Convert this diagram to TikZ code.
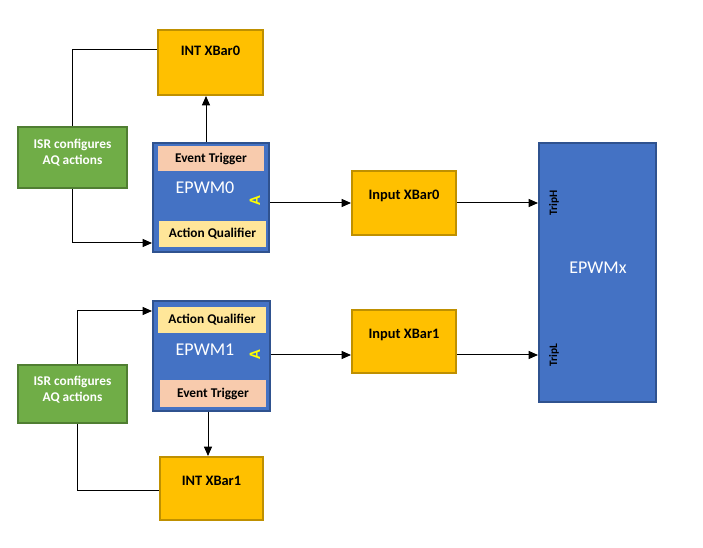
\documentclass[tikz,border=0pt]{standalone}
\usepackage{fontspec}
\setmainfont{Carlito}
\usetikzlibrary{arrows.meta}
\definecolor{orF}{HTML}{FFC000}
\definecolor{orB}{HTML}{BF9000}
\definecolor{grF}{HTML}{70AD47}
\definecolor{grB}{HTML}{507E32}
\definecolor{blF}{HTML}{4472C4}
\definecolor{blB}{HTML}{2F528F}
\definecolor{etF}{HTML}{F8CBAD}
\definecolor{aqF}{HTML}{FFE699}
\definecolor{ylw}{HTML}{FFFF00}
\tikzset{
  sz/.style 2 args={minimum width=#1*0.75pt, minimum height=#2*0.75pt, inner sep=0pt},
  xbar/.style={draw=orB, fill=orF, line width=1.5pt},
  xbartext/.style={font=\fontsize{10.8}{12}\selectfont\bfseries},
  isr/.style={draw=grB, fill=grF, line width=1.5pt},
  isrtext/.style={text=white, align=center, font=\fontsize{10}{12}\selectfont\bfseries},
  epwm/.style={draw=blB, fill=blF, line width=1.5pt},
  sub/.style={inner sep=0pt, font=\fontsize{10}{11}\selectfont\bfseries},
  big/.style={text=white, font=\fontsize{13.5}{15}\selectfont},
  amark/.style={text=ylw, rotate=90, font=\fontsize{12}{12}\selectfont\bfseries},
  trip/.style={rotate=90, font=\fontsize{8.5}{10}\selectfont\bfseries},
  conn/.style={line width=0.75pt},
  arr/.style={conn, -{Triangle[length=7pt,width=6pt]}}
}
\begin{document}
\begin{tikzpicture}[x=0.75pt,y=-0.75pt]
\useasboundingbox (0,0) rectangle (703,548);
% top row
\node[xbar, sz={105}{65}] (intx0) at (210.5,62.5) {};
\node[xbartext] (intx0t) at (210.5,51) {INT XBar0};
\node[isr, sz={109}{61}] (isr0) at (72.5,157.5) {};
\node[isrtext] (isr0t) at (72.5,153) {ISR configures\\AQ actions};
\node[epwm, sz={116}{109}] (epwm0) at (211,197.5) {};
\node[sub, fill=etF, sz={106}{25}] (et0) at (211,158.5) {Event Trigger};
\node[sub, fill=aqF, sz={107}{26}] (aq0) at (212.5,234) {Action Qualifier};
\node[big] (epwm0t) at (205,188) {EPWM0};
\node[amark] (a0) at (255,201) {A};
\node[xbar, sz={104}{64}] (inx0) at (404,203) {};
\node[xbartext] (inx0t) at (404,196) {Input XBar0};
% EPWMx
\node[epwm, sz={117}{259}] (epwmx) at (597.5,272.5) {};
\node[big] (epwmxt) at (598,268) {EPWMx};
\node[trip] (triph) at (554,203) {TripH};
\node[trip] (tripl) at (554,355) {TripL};
% bottom row
\node[epwm, sz={117}{110}] (epwm1) at (211.5,356) {};
\node[sub, fill=aqF, sz={108}{26}] (aq1) at (212,320) {Action Qualifier};
\node[sub, fill=etF, sz={106}{27}] (et1) at (213,393.5) {Event Trigger};
\node[big] (epwm1t) at (205,350) {EPWM1};
\node[amark] (a1) at (255,355) {A};
\node[isr, sz={109}{58}] (isr1) at (72.5,394) {};
\node[isrtext] (isr1t) at (72.5,390) {ISR configures\\AQ actions};
\node[xbar, sz={103}{63}] (intx1) at (211.5,488.5) {};
\node[xbartext] (intx1t) at (211.5,481) {INT XBar1};
\node[xbar, sz={104}{63}] (inx1) at (404,341.5) {};
\node[xbartext] (inx1t) at (404,335) {Input XBar1};
% connectors
\draw[conn] (isr0.north) |- (intx0.west |- 0,50);
\draw[arr] (isr0.south) |- (epwm0.west |- 0,243);
\draw[arr] (epwm0.north -| 206,0) -- (intx0.south -| 206,0);
\draw[arr] (epwm0.east |- 0,203) -- (inx0.west |- 0,203);
\draw[arr] (inx0.east |- 0,203) -- (epwmx.west |- 0,203);
\draw[arr] (isr1.north -| 77,0) |- (epwm1.west |- 0,311);
\draw[conn] (isr1.south -| 77,0) |- (intx1.west |- 0,491);
\draw[arr] (epwm1.south -| 208,0) -- (intx1.north -| 208,0);
\draw[arr] (epwm1.east |- 0,355) -- (inx1.west |- 0,355);
\draw[arr] (inx1.east |- 0,355) -- (epwmx.west |- 0,355);
\end{tikzpicture}
\end{document}
